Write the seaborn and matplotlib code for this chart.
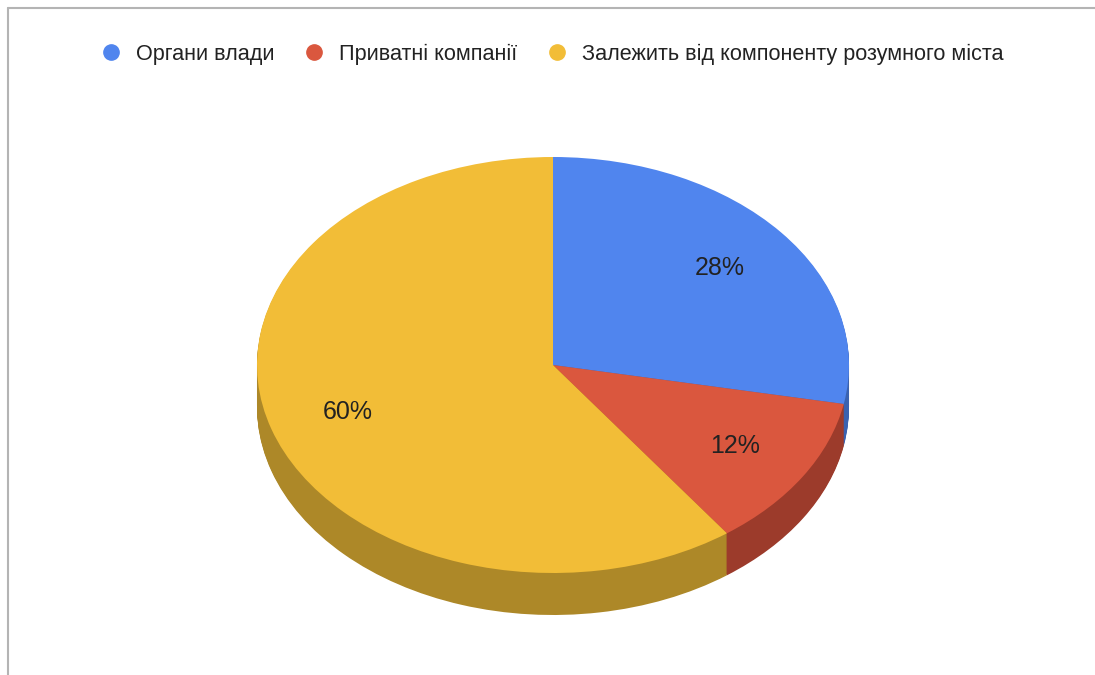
import matplotlib
matplotlib.use("Agg")
import matplotlib.pyplot as plt
import seaborn as sns
from matplotlib.lines import Line2D

# Дані діаграми
categories = ["Органи влади", "Приватні компанії", "Залежить від компоненту розумного міста"]
shares = [28, 12, 60]
top_colors = ["#5085EE", "#DA573E", "#F2BD37"]
side_colors = ["#3A62B0", "#9C3B2B", "#AD8828"]

sns.set_style("white")
plt.rcParams["font.family"] = ["Liberation Sans", "DejaVu Sans"]

W, H = 1095, 675
fig = plt.figure(figsize=(W / 100, H / 100), dpi=100)
ax = fig.add_axes([0, 0, 1, 1])

# геометрія еліпса (пікселі)
cx, cy = 553, 365
rx, ry = 296, 208
depth = 42

# бічна стінка: шари темнішого пирога
for k in range(depth, 0, -1):
    ax.pie(shares, colors=side_colors, startangle=90, counterclock=False,
           center=(0, -k / ry), wedgeprops=dict(linewidth=0))

# верхня поверхня
wedges, texts, autotexts = ax.pie(
    shares, colors=top_colors, startangle=90, counterclock=False,
    autopct="%1.0f%%", pctdistance=0.73,
    wedgeprops=dict(linewidth=0),
    textprops=dict(fontsize=18, color="#222222"))

ax.set_aspect("auto")
ax.set_xlim(-cx / rx, (W - cx) / rx)
ax.set_ylim(-(H - cy) / ry, cy / ry)
ax.axis("off")

# легенда
handles = [Line2D([], [], marker="o", linestyle="", markersize=11,
                  markerfacecolor=c, markeredgecolor=c) for c in top_colors]
fig.legend(handles, categories, loc="center", ncol=3, frameon=False,
           bbox_to_anchor=(553 / W, 1 - 54 / H), fontsize=15.6,
           handlelength=0.8, handletextpad=0.75, columnspacing=1.45,
           labelcolor="#222222")

# рамка зліва та зверху
fig.add_artist(Line2D([7.5 / W, 1], [1 - 8 / H, 1 - 8 / H], color="#b4b4b4",
                      lw=1.5, transform=fig.transFigure))
fig.add_artist(Line2D([7.5 / W, 7.5 / W], [0, 1 - 8 / H], color="#b4b4b4",
                      lw=1.5, transform=fig.transFigure))

fig.savefig("out.png", dpi=100)
